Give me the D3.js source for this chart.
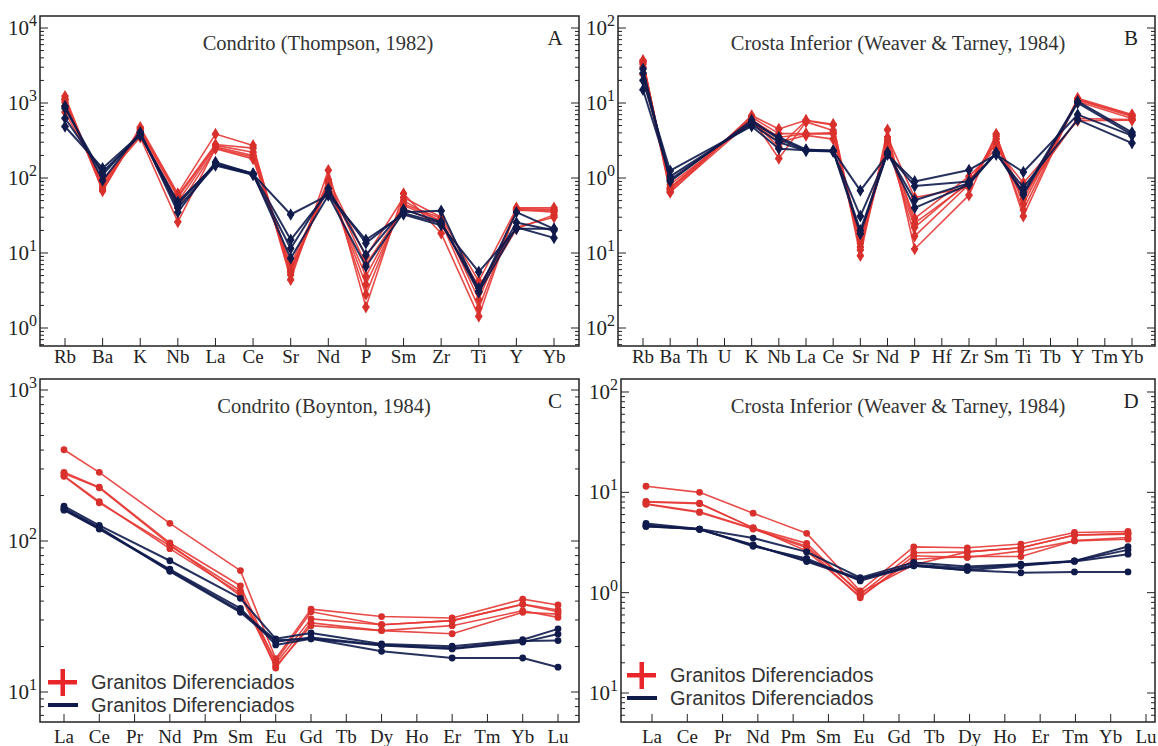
<!DOCTYPE html>
<html><head><meta charset="utf-8">
<script src="https://cdn.jsdelivr.net/npm/d3@7"></script>
<style>body{margin:0;background:#fff}svg{display:block}</style>
</head><body>
<svg id="chart" width="1158" height="746"></svg>
<script>
// ---------------- DATA ----------------
const elemsA = ["Rb","Ba","K","Nb","La","Ce","Sr","Nd","P","Sm","Zr","Ti","Y","Yb"];
const redA = [
  [1230,67,475,62,385,272,4.4,127,1.9,62,18.3,1.43,40,40],
  [1130,75,430,55,272,220,5.1,88,2.8,50,26,1.84,37,37],
  [1020,82,400,48,260,200,5.8,80,3.8,45,29,2.4,38,35],
  [900,88,380,40,245,180,6.3,75,4.9,43,27,3.0,21,32],
  [755,93,350,26,250,190,7.0,85,7.0,39,25,3.6,22,30],
  [1100,70,450,58,280,250,5.5,95,8.9,55,30,4.2,39,38]
];
const navyA = [
  [910,93,408,35,163,114,8.5,59,6.6,35,36.5,3.1,35,21],
  [626,120,368,48,150,112,32.6,59,15,32.6,23.5,5.6,21,21],
  [486,135,380,45,155,115,15,65,13.5,34,25,3.4,25.5,20],
  [850,110,400,40,147,110,11.5,72,9.4,38,26,3.0,22,15.9]
];
const yTicksA = [1e4,1e3,1e2,1e1,1e0];
const yTickExpA = ["4","3","2","1","0"];

const elemsB = ["Rb","Ba","Th","U","K","Nb","La","Ce","Sr","Nd","P","Hf","Zr","Sm","Ti","Tb","Y","Tm","Yb"];
const dataElemsB = ["Rb","Ba","K","Nb","La","Ce","Sr","Nd","P","Zr","Sm","Ti","Y","Yb"];
const redB = [
  [37,0.64,6.8,4.5,5.9,5.2,0.092,4.4,0.113,0.59,3.86,0.31,11.6,7.0],
  [35,0.70,6.3,1.82,5.6,4.3,0.11,3.0,0.168,0.82,3.3,0.375,11.0,6.6],
  [33,0.75,6.0,3.5,3.86,3.9,0.135,2.6,0.22,0.9,2.9,0.52,10.5,6.2],
  [24,0.82,5.6,3.0,3.7,3.3,0.165,2.8,0.29,1.05,2.46,0.86,5.8,5.9],
  [30,0.66,5.8,2.6,5.8,5.1,0.12,3.5,0.55,0.75,3.6,0.45,11.2,6.8],
  [36,0.72,6.5,3.9,3.9,4.0,0.15,3.2,0.25,0.85,3.0,0.6,6.2,6.0]
];
const navyB = [
  [28.5,0.9,5.9,3.3,2.34,2.3,0.18,2.2,0.4,0.82,2.16,0.64,10.5,4.06],
  [20,1.25,4.9,2.46,2.34,2.3,0.68,2.05,0.9,1.28,2.05,1.2,7.0,3.67],
  [15,1.05,5.2,3.0,2.3,2.25,0.31,2.1,0.78,0.9,2.1,0.75,6.0,2.92],
  [25,0.95,5.5,3.5,2.4,2.3,0.2,2.15,0.506,0.85,2.2,0.6,10.0,3.8]
];
const yTicksB = [1e2,1e1,1e0,1e-1,1e-2];
const yTickExpB = ["2","1","0","1","2"];

const elemsREE = ["La","Ce","Pr","Nd","Pm","Sm","Eu","Gd","Tb","Dy","Ho","Er","Tm","Yb","Lu"];
const dataElemsREE = ["La","Ce","Nd","Sm","Eu","Gd","Dy","Er","Yb","Lu"];
const redC = [
  [402,285,131,63.7,16.6,35.4,31.6,30.9,41.2,37.7],
  [285,227,97,50.5,15.4,30.5,27.9,29.7,38.2,34.9],
  [268,179,93,46.8,14.4,28.7,25.5,27.5,34.5,31.2],
  [280,225,95,43.4,14.8,27.5,25.5,24.3,33.7,32.8],
  [270,182,89,45,16.0,34,27.9,29.7,38,34]
];
const navyC = [
  [170,127,74,41.7,22.5,24.6,20.8,20.1,22.2,26.2],
  [162,121,65,35.8,20.5,22.5,20.3,19.3,21.4,24.2],
  [165,123,63,33.7,21.5,23,20.5,19.5,21.8,21.9],
  [160,120,64,34.5,22,22.5,18.6,16.8,16.8,14.6]
];
const yTicksC = [1e3,1e2,1e1];
const yTickExpC = ["3","2","1"];

const redD = [
  [11.5,10,6.2,3.9,1.04,2.86,2.8,3.05,3.98,4.07],
  [8.1,7.8,4.4,3.1,0.96,2.5,2.55,2.8,3.74,3.83],
  [7.6,6.3,4.3,2.8,0.89,2.33,2.24,2.6,3.28,3.41],
  [8.0,7.7,4.45,2.6,0.92,2.15,2.3,2.29,3.3,3.55],
  [7.7,6.4,4.35,2.9,1.0,1.9,2.55,2.8,3.75,3.9]
];
const navyD = [
  [4.9,4.3,3.5,2.55,1.41,2.0,1.82,1.92,2.07,2.88],
  [4.57,4.3,2.9,2.19,1.31,1.85,1.67,1.85,2.07,2.67],
  [4.7,4.25,3.0,2.04,1.35,1.9,1.75,1.9,2.05,2.42],
  [4.6,4.3,2.95,2.1,1.38,1.85,1.67,1.58,1.61,1.61]
];
const yTicksD = [1e2,1e1,1e0,1e-1];
const yTickExpD = ["2","1","0","1"];

const legendLabels = ["Granitos Diferenciados","Granitos Diferenciados"];

// ---------------- DRAW ----------------
const SERIF = "'Liberation Serif','Times New Roman',serif";
const SANS = "'Liberation Sans',Arial,sans-serif";
const RED = "#e53935", RED_M = "#d8302c", NAVY = "#101b4c";
const svg = d3.select("#chart");

function panel(cfg){
  const g = svg.append("g");
  const [L,T,R,B] = cfg.frame;
  const xAxis = d3.scalePoint().domain(cfg.axisElems).range(cfg.xr);
  const xData = cfg.dataRange ? d3.scalePoint().domain(cfg.dataElems).range(cfg.dataRange) : xAxis;
  const y = d3.scaleLog().domain([cfg.yTicks[cfg.yTicks.length-1], cfg.yTicks[0]])
              .range([cfg.yr[1], cfg.yr[0]]);
  const frameCol = "#222";

  const lo = Math.floor(Math.log10(y.invert(B))), hi = Math.ceil(Math.log10(y.invert(T)));
  for (let e = lo; e <= hi; e++){
    for (let k = 1; k <= 9; k++){
      const v = k*Math.pow(10,e), py = y(v);
      if (py < T+0.5 || py > B-0.5) continue;
      const len = k===1 ? 8 : 4;
      g.append("line").attr("x1",L).attr("x2",L+len).attr("y1",py).attr("y2",py)
        .attr("stroke",frameCol).attr("stroke-width",1);
      g.append("line").attr("x1",R).attr("x2",R-len).attr("y1",py).attr("y2",py)
        .attr("stroke",frameCol).attr("stroke-width",1);
    }
  }
  cfg.yTicks.forEach((v,i)=>{
    const t = g.append("text").attr("x",L-3).attr("y",y(v)+7)
      .attr("text-anchor","end").attr("font-family",SERIF).attr("font-size",21).attr("fill","#222");
    t.append("tspan").text("10");
    t.append("tspan").attr("dy",-9).attr("font-size",16).text(cfg.yExp[i]);
  });
  cfg.axisElems.forEach(el=>{
    const px = xAxis(el);
    g.append("line").attr("x1",px).attr("x2",px).attr("y1",B).attr("y2",B-8)
      .attr("stroke",frameCol).attr("stroke-width",1);
    g.append("text").attr("x",px).attr("y",B+cfg.labelDy).attr("text-anchor","middle")
      .attr("font-family",SERIF).attr("font-size",19).attr("fill","#222").text(el);
  });
  g.append("rect").attr("x",L).attr("y",T).attr("width",R-L).attr("height",B-T)
    .attr("fill","none").attr("stroke",frameCol).attr("stroke-width",1.5);
  g.append("text").attr("x",cfg.titleX).attr("y",T+34).attr("text-anchor","middle")
    .attr("font-family",SERIF).attr("font-size",20.5).attr("fill","#333").text(cfg.title);
  g.append("text").attr("x",R-24).attr("y",T+29).attr("text-anchor","middle")
    .attr("font-family",SERIF).attr("font-size",21).attr("fill","#222").text(cfg.letter);

  const line = d3.line().x(d=>xData(d.e)).y(d=>y(d.v));
  function series(arr, col, mcol, w){
    arr.forEach(vals=>{
      const pts = cfg.dataElems.map((e,i)=>({e, v: vals[i]}));
      g.append("path").attr("d",line(pts)).attr("fill","none")
        .attr("stroke",col).attr("stroke-width",w).attr("stroke-opacity",0.9)
        .attr("stroke-linejoin","round");
      pts.forEach(p=>{
        if (cfg.marker === "circle"){
          g.append("circle").attr("cx",xData(p.e)).attr("cy",y(p.v)).attr("r",3.4).attr("fill",mcol);
        } else {
          g.append("path").attr("d",d3.symbol(d3.symbolDiamond,46)())
            .attr("transform",`translate(${xData(p.e)},${y(p.v)})`).attr("fill",mcol);
          g.append("path").attr("d",d3.symbol(d3.symbolCross,26)())
            .attr("transform",`translate(${xData(p.e)},${y(p.v)})`).attr("fill",mcol);
        }
      });
    });
  }
  series(cfg.red, RED, RED_M, 1.6);
  series(cfg.navy, NAVY, NAVY, 2.0);

  if (cfg.legend){
    const [lx, ly] = cfg.legend;
    g.append("rect").attr("x",lx).attr("y",ly-2).attr("width",29).attr("height",4.5).attr("fill","#e8262a");
    g.append("rect").attr("x",lx+12.5).attr("y",ly-13).attr("width",4.5).attr("height",27).attr("fill","#e8262a");
    g.append("rect").attr("x",lx).attr("y",ly+21).attr("width",30).attr("height",4).attr("fill",NAVY);
    g.append("text").attr("x",lx+43).attr("y",ly+7).attr("font-family",SANS).attr("font-size",20)
      .attr("fill","#333").text(legendLabels[0]);
    g.append("text").attr("x",lx+43).attr("y",ly+30).attr("font-family",SANS).attr("font-size",20)
      .attr("fill","#333").text(legendLabels[1]);
  }
}

panel({frame:[40,16,579,346], axisElems:elemsA, dataElems:elemsA, xr:[65,554], labelDy:17,
  yTicks:yTicksA, yExp:yTickExpA, yr:[28,328], red:redA, navy:navyA,
  title:"Condrito (Thompson, 1982)", titleX:318, letter:"A", marker:"diamond"});
panel({frame:[618,16,1155,346], axisElems:elemsB, dataElems:dataElemsB, xr:[643,1132], labelDy:17,
  yTicks:yTicksB, yExp:yTickExpB, yr:[28,328], red:redB, navy:navyB,
  title:"Crosta Inferior (Weaver & Tarney, 1984)", titleX:898, letter:"B", marker:"diamond"});
panel({frame:[40,379,579,722], axisElems:elemsREE, dataElems:dataElemsREE, xr:[64,558], labelDy:21,
  yTicks:yTicksC, yExp:yTickExpC, yr:[390,692], red:redC, navy:navyC,
  title:"Condrito (Boynton, 1984)", titleX:324, letter:"C", marker:"circle", legend:[48,682]});
panel({frame:[621,379,1155,722], axisElems:elemsREE, dataElems:dataElemsREE, xr:[652,1146], labelDy:21,
  dataRange:[646,1128],
  yTicks:yTicksD, yExp:yTickExpD, yr:[392,693], red:redD, navy:navyD,
  title:"Crosta Inferior (Weaver & Tarney, 1984)", titleX:898, letter:"D", marker:"circle", legend:[627,675]});
</script>
</body></html>
